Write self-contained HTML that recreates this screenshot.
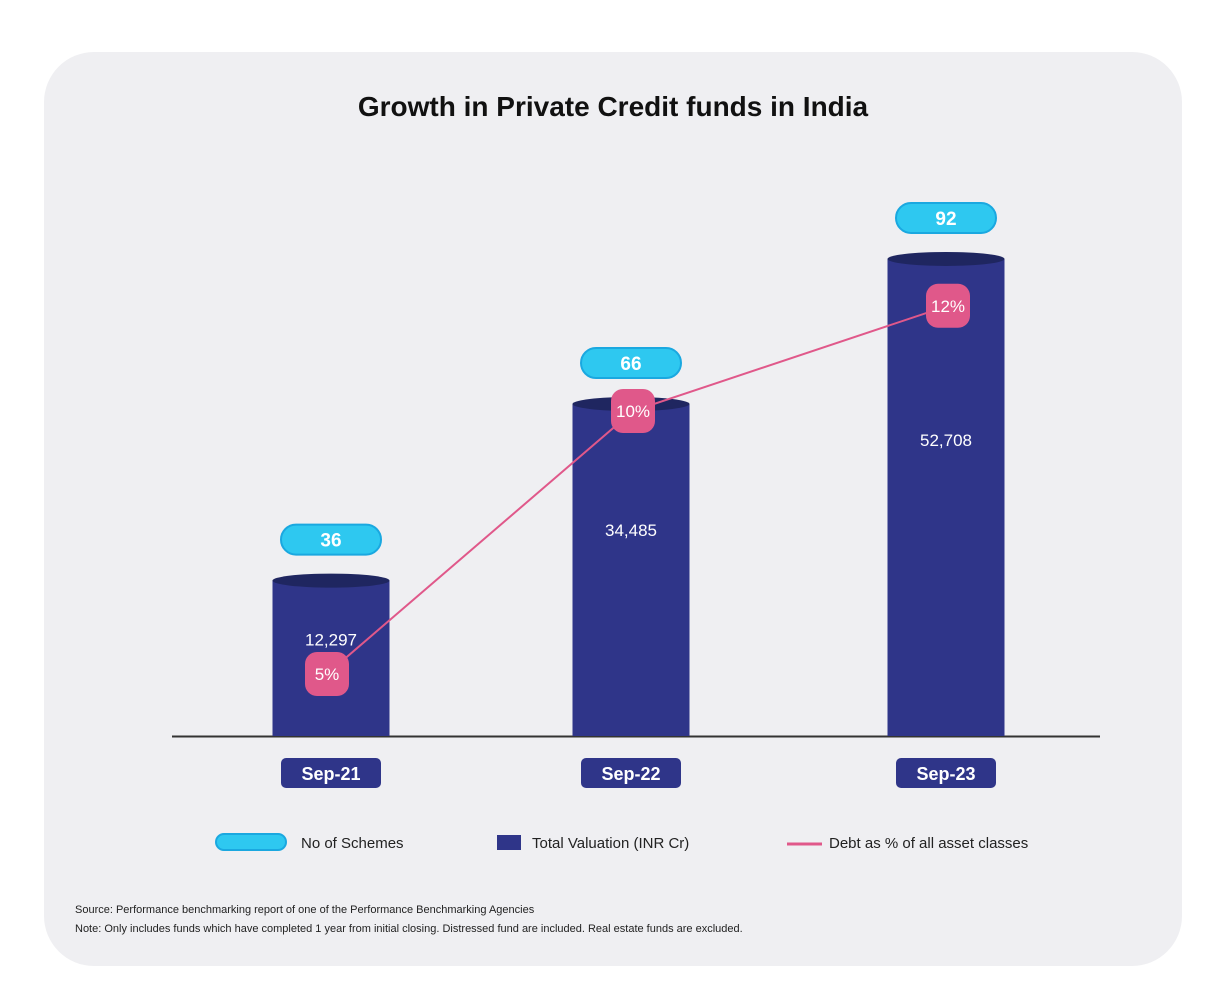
<!DOCTYPE html>
<html><head><meta charset="utf-8"><style>
body{margin:0;background:#fff;font-family:"Liberation Sans",sans-serif}
</style></head><body>
<svg width="1226" height="996" viewBox="0 0 1226 996" xmlns="http://www.w3.org/2000/svg">
<rect x="44" y="52" width="1138" height="914" rx="50" fill="#efeff2"/>
<text x="613" y="116" text-anchor="middle" font-size="28" font-weight="bold" fill="#111">Growth in Private Credit funds in India</text>
<line x1="172" y1="736.5" x2="1100" y2="736.5" stroke="#333" stroke-width="2"/>
<g id="marks"></g>
<g>
<rect x="216" y="834" width="70" height="16" rx="8" fill="#2ec8f0" stroke="#1aa8e0" stroke-width="2"/>
<text x="301" y="848" font-size="15" fill="#222">No of Schemes</text>
<rect x="497" y="835" width="24" height="15" fill="#2f3589"/>
<text x="532" y="848" font-size="15" fill="#222">Total Valuation (INR Cr)</text>
<line x1="787" y1="844" x2="822" y2="844" stroke="#e0588a" stroke-width="3"/>
<text x="829" y="848" font-size="15" fill="#222">Debt as % of all asset classes</text>
</g>
<text x="75" y="913" font-size="11" fill="#222">Source: Performance benchmarking report of one of the Performance Benchmarking Agencies</text>
<text x="75" y="932" font-size="11" fill="#222">Note: Only includes funds which have completed 1 year from initial closing. Distressed fund are included. Real estate funds are excluded.</text>
</svg>
<script>
const categories=["Sep-21","Sep-22","Sep-23"];
const valuations=[12297,34485,52708];
const schemes=[36,66,92];
const debtPct=[5,10,12];
const ns="http://www.w3.org/2000/svg";
const g=document.getElementById('marks');
const base=736, centers=[331,631,946], bw=117;
function yVal(v){return base-(57.5+0.00796*v);}
function yPct(p){return 937-52.6*p;}
function mk(t,a,txt){const e=document.createElementNS(ns,t);for(const k in a)e.setAttribute(k,a[k]);if(txt!==undefined)e.textContent=txt;g.appendChild(e);return e;}
const pts=[];
categories.forEach((c,i)=>{
 const cx=centers[i], top=yVal(valuations[i]);
 let e=mk('rect',{x:cx-bw/2,y:top,width:bw,height:base-top,fill:'#2f3589'});
 
 
 e=mk('ellipse',{cx:cx,cy:top,rx:bw/2,ry:7,fill:'#1f2660'});
 
 
 e=mk('text',{x:cx,y:top+0.38*(base-top)+6,'text-anchor':'middle','font-size':17,fill:'#fff'},valuations[i].toLocaleString('en-US'));
 
 
 e=mk('rect',{x:cx-50,y:top-56,width:100,height:30,rx:15,fill:'#2ec8f0',stroke:'#1aa8e0','stroke-width':2});
 
 
 e=mk('text',{x:cx,y:top-34,'text-anchor':'middle','font-size':19,'font-weight':'bold',fill:'#fff'},schemes[i]);
 
 
 e=mk('rect',{x:cx-50,y:758,width:100,height:30,rx:5,fill:'#2f3589'});
 
 
 e=mk('text',{x:cx,y:780,'text-anchor':'middle','font-size':18,'font-weight':'bold',fill:'#fff'},c);
 
 
 pts.push([i===0?327:cx+2,yPct(debtPct[i])]);
});
let l=mk('polyline',{points:pts.map(p=>p.join(',')).join(' '),fill:'none',stroke:'#e0588a','stroke-width':2});


pts.forEach((p,i)=>{
 let e=mk('rect',{x:p[0]-22,y:p[1]-22,width:44,height:44,rx:12,fill:'#e0588a'});
 
 
 e=mk('text',{x:p[0],y:p[1]+6,'text-anchor':'middle','font-size':17,fill:'#fff'},debtPct[i]+'%');
 
 
});
</script>
</body></html>
